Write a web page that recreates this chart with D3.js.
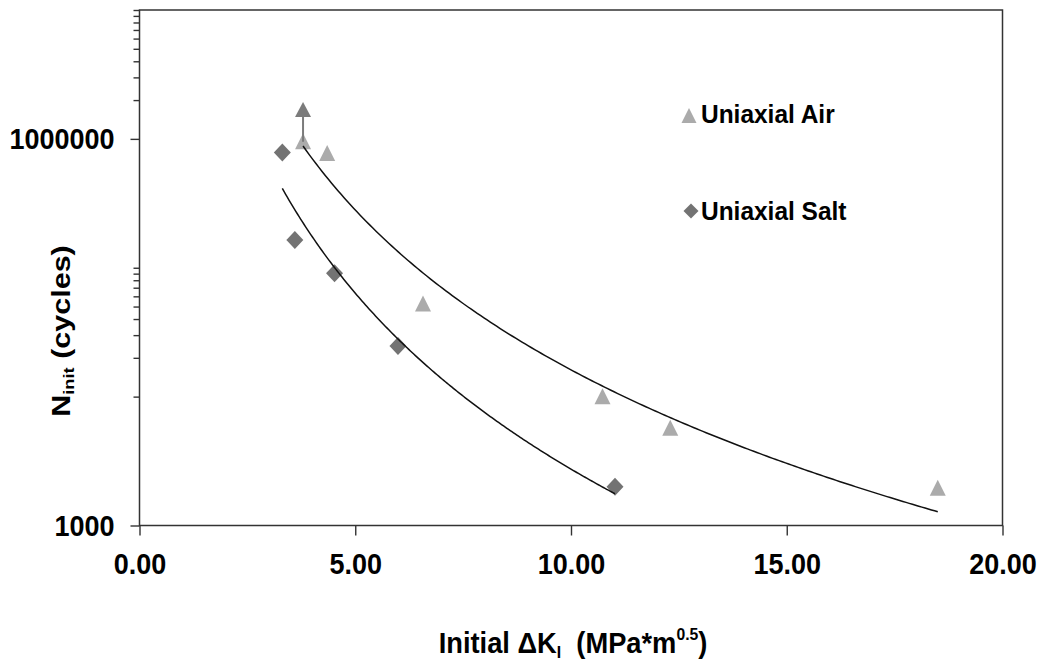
<!DOCTYPE html>
<html><head><meta charset="utf-8">
<script src="https://cdn.jsdelivr.net/npm/d3@7"></script>
<style>body{margin:0;background:#fff;} svg{display:block;}</style>
</head><body><svg id="chart" width="1041" height="660"></svg>
<script>
// ---- data ----
const airX = [3.79, 4.35, 6.57, 10.73, 12.30, 18.50];
const airY = [950000, 772000, 52300, 10000, 5680, 1945];
const saltX = [3.31, 3.60, 4.52, 5.99, 11.02];
const saltY = [785000, 164000, 90500, 24700, 2000];
const runoutArrow = [3.79, 950000, 1930000]; // x, from, arrow tip
const seriesNames = ["Uniaxial Air", "Uniaxial Salt"];
const xTickValues = [0, 5, 10, 15, 20];
const yLabelTicks = [1000, 1000000];
const yMinorTicks = [10000, 20000, 30000, 40000, 50000, 60000, 70000, 80000, 90000, 100000,
  2000000, 3000000, 4000000, 5000000, 6000000, 7000000, 8000000, 9000000, 10000000];

// ---- layout ----
const X0 = 139.5, X1 = 1002.5, Y0 = 10, Y1 = 525.5;
const FONT = "'Liberation Sans', Arial, sans-serif";
const airColor = "#ababab", saltColor = "#737373", axisColor = "#333";

const svg = d3.select("#chart");
const x = d3.scaleLinear().domain([0, 20]).range([X0, X1]);
const y = d3.scaleLog().domain([1000, 10000000]).range([Y1, Y0]);

// power-law trendline (least squares in log-log space)
function powerFit(xs, ys) {
  const lx = xs.map(Math.log10), ly = ys.map(Math.log10);
  const mx = d3.mean(lx), my = d3.mean(ly);
  const b = d3.sum(lx, (v, i) => (v - mx) * (ly[i] - my)) / d3.sum(lx, v => (v - mx) ** 2);
  const la = my - b * mx;
  return xv => Math.pow(10, la + b * Math.log10(xv));
}
function fitPoints(xs, ys) {
  const f = powerFit(xs, ys);
  const [a, b] = d3.extent(xs);
  return d3.range(0, 201).map(i => { const xv = a + (b - a) * i / 200; return [xv, f(xv)]; });
}

// plot box
svg.append("rect").attr("x", X0).attr("y", Y0).attr("width", X1 - X0).attr("height", Y1 - Y0)
  .attr("fill", "none").attr("stroke", axisColor).attr("stroke-width", 1.5);

// y axis
const gyMinor = svg.append("g").attr("transform", `translate(${X0},0)`)
  .call(d3.axisLeft(y).tickValues(yMinorTicks).tickSize(6).tickFormat(""));
const gyMajor = svg.append("g").attr("transform", `translate(${X0},0)`)
  .call(d3.axisLeft(y).tickValues(yLabelTicks).tickSize(9).tickPadding(16).tickFormat(d3.format("d")));
[gyMinor, gyMajor].forEach(g => {
  g.select(".domain").remove();
  g.selectAll(".tick line").attr("stroke", axisColor).attr("stroke-width", 1.4);
});
gyMajor.selectAll(".tick text").attr("fill", "#000").style("font-family", FONT)
  .style("font-size", "27px").style("font-weight", "bold").attr("transform", "scale(1,1.12)");

// x axis
const gx = svg.append("g").attr("transform", `translate(0,${Y1})`)
  .call(d3.axisBottom(x).tickValues(xTickValues).tickSize(10).tickFormat(d3.format(".2f")));
gx.select(".domain").remove();
gx.selectAll(".tick line").attr("stroke", axisColor).attr("stroke-width", 1.4);
gx.selectAll(".tick text").attr("fill", "#000").attr("dy", null).attr("y", 43)
  .style("font-family", FONT).style("font-size", "27px").style("font-weight", "bold")
  .attr("transform", "scale(1,1.12)");

// markers
const triPath = (s) => `M0,${-s * 0.53}L${s / 2},${s * 0.47}L${-s / 2},${s * 0.47}Z`;
const diaPath = (w, h) => `M0,${-h / 2}L${w / 2},0L0,${h / 2}L${-w / 2},0Z`;

svg.append("g").selectAll("path").data(airX.map((v, i) => [v, airY[i]])).join("path")
  .attr("d", triPath(16)).attr("fill", airColor)
  .attr("transform", d => `translate(${x(d[0])},${y(d[1])})`);
svg.append("g").selectAll("path").data(saltX.map((v, i) => [v, saltY[i]])).join("path")
  .attr("d", diaPath(17, 18)).attr("fill", saltColor)
  .attr("transform", d => `translate(${x(d[0])},${y(d[1])})`);

// trendlines
const line = d3.line().x(d => x(d[0])).y(d => y(d[1])).curve(d3.curveLinear);
[[airX, airY], [saltX, saltY]].forEach(([xs, ys]) => {
  svg.append("path").attr("d", line(fitPoints(xs, ys))).attr("fill", "none")
    .attr("stroke", "#111").attr("stroke-width", 1.5);
});

// run-out arrow
const ax = x(runoutArrow[0]), ay0 = y(runoutArrow[1]), ayTip = y(runoutArrow[2]);
svg.append("line").attr("x1", ax).attr("x2", ax).attr("y1", ay0).attr("y2", ayTip + 14)
  .attr("stroke", "#7b7b7b").attr("stroke-width", 2);
svg.append("path").attr("d", `M${ax},${ayTip}L${ax + 8},${ayTip + 15}L${ax - 8},${ayTip + 15}Z`)
  .attr("fill", "#7b7b7b");

// legend
const legend = svg.append("g");
legend.append("path").attr("d", triPath(15)).attr("fill", airColor).attr("transform", "translate(689,116)");
legend.append("path").attr("d", diaPath(15, 15)).attr("fill", saltColor).attr("transform", "translate(691,211)");
[[seriesNames[0], 123], [seriesNames[1], 220]].forEach(([t, by]) => {
  legend.append("text").text(t).attr("x", 0).attr("y", 0)
    .attr("transform", `translate(701,${by}) scale(1.02,1.1)`)
    .style("font-family", FONT).style("font-size", "24px").style("font-weight", "bold").attr("fill", "#000");
});

// y axis title
const yt = svg.append("text").attr("transform", "translate(70,331) rotate(-90) scale(1.22,1)")
  .attr("text-anchor", "middle").style("font-family", FONT).style("font-weight", "bold")
  .style("font-size", "25px").attr("fill", "#000");
yt.append("tspan").text("N");
yt.append("tspan").text("init").style("font-size", "15px").attr("dy", 4);
yt.append("tspan").text(" (cycles)").attr("dy", -4);

// x axis title
const xt = svg.append("text").attr("transform", "translate(573,653) scale(1.05,1.15)")
  .attr("text-anchor", "middle").style("font-family", FONT).style("font-weight", "bold")
  .style("font-size", "26px").attr("fill", "#000");
xt.append("tspan").text("Initial \u0394K");
xt.append("tspan").text("I").style("font-size", "15px").attr("dy", 4);
xt.append("tspan").text("  (MPa*m").attr("dy", -4).attr("xml:space", "preserve");
xt.append("tspan").text("0.5").style("font-size", "15px").attr("dy", -11);
xt.append("tspan").text(")").attr("dy", 11);
</script></body></html>
